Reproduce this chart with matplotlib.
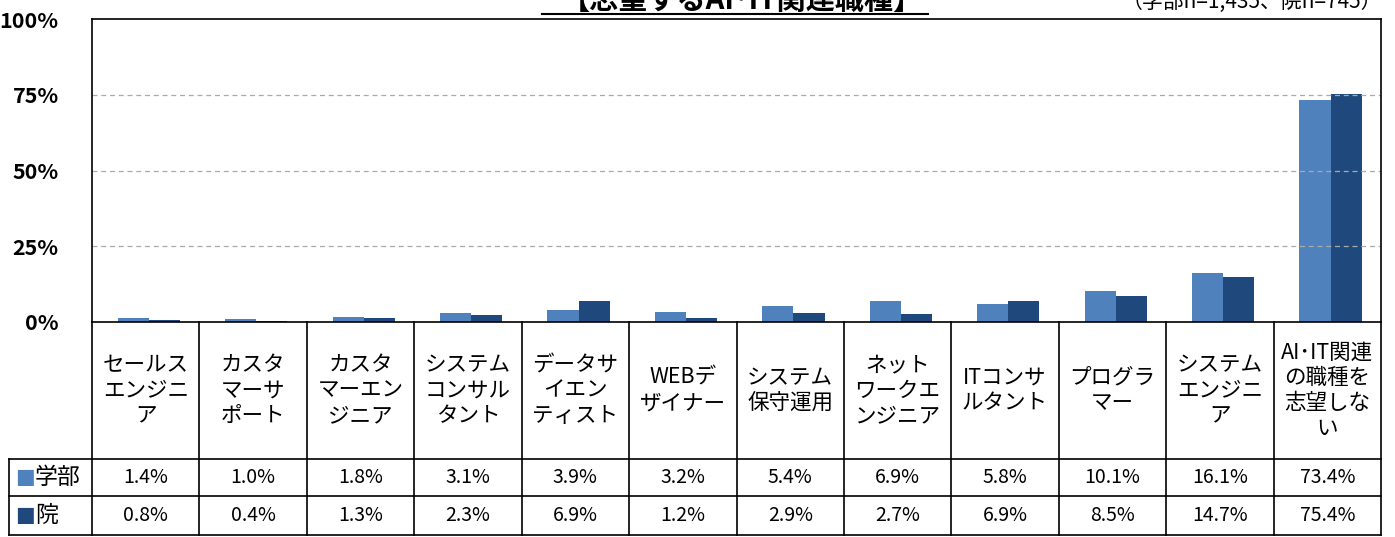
import matplotlib
matplotlib.use("Agg")
import matplotlib.pyplot as plt
from matplotlib.transforms import blended_transform_factory
from matplotlib.lines import Line2D

plt.rcParams['font.family'] = ['Noto Sans CJK JP', 'DejaVu Sans']

categories = ['セールス\nエンジニ\nア', 'カスタ\nマーサ\nポート', 'カスタ\nマーエン\nジニア',
              'システム\nコンサル\nタント', 'データサ\nイエン\nティスト', 'WEBデ\nザイナー',
              'システム\n保守運用', 'ネット\nワークエ\nンジニア', 'ITコンサ\nルタント',
              'プログラ\nマー', 'システム\nエンジニ\nア', 'AI･IT関連\nの職種を\n志望しな\nい']
gakubu = [1.4, 1.0, 1.8, 3.1, 3.9, 3.2, 5.4, 6.9, 5.8, 10.1, 16.1, 73.4]
in_ = [0.8, 0.4, 1.3, 2.3, 6.9, 1.2, 2.9, 2.7, 6.9, 8.5, 14.7, 75.4]
series_names = ['学部', '院']
colors = ['#4F81BD', '#1F497D']

W, H = 1395, 537
fig = plt.figure(figsize=(W / 100, H / 100), dpi=100)
ax = fig.add_axes([92 / W, 1 - 322 / H, (1381 - 92) / W, (322 - 19) / H])

n = len(categories)
x = list(range(n))
bw = 0.29
ax.bar([i - bw / 2 + 0.03 for i in x], gakubu, width=bw, color=colors[0])
ax.bar([i + bw / 2 + 0.03 for i in x], in_, width=bw, color=colors[1])

ax.set_xlim(-0.5, n - 0.5)
ax.set_ylim(0, 100)
ax.set_yticks([0, 25, 50, 75, 100])
ax.set_yticklabels(['0%', '25%', '50%', '75%', '100%'], fontsize=15.5, fontweight='bold')
ax.tick_params(axis='y', length=0, pad=24)
ax.set_xticks([])
for y in [25, 50, 75]:
    ax.axhline(y, color='#AAAAAA', lw=0.9, ls=(0, (4, 3)))
for s in ax.spines.values():
    s.set_color('black')
    s.set_linewidth(1.2)

# table below the plot
tr = blended_transform_factory(ax.transData, ax.transAxes)
r1, r2, r3 = -0.452, -0.574, -0.703
xl = -1.273
lk = dict(color='black', lw=1.2, transform=tr, clip_on=False)
for b in [i - 0.5 for i in range(n + 1)]:
    ax.add_line(Line2D([b, b], [0, r3], **lk))
ax.add_line(Line2D([xl, xl], [r1, r3], **lk))
for r in [r1, r2, r3]:
    ax.add_line(Line2D([xl, n - 0.5], [r, r], **lk))

for i, lab in enumerate(categories):
    ax.text(i, r1 / 2, lab, transform=tr, ha='center', va='center', fontsize=15.5,
            linespacing=1.2)
    ax.text(i, (r1 + r2) / 2, f'{gakubu[i]:.1f}%', transform=tr, ha='center',
            va='center', fontsize=14)
    ax.text(i, (r2 + r3) / 2, f'{in_[i]:.1f}%', transform=tr, ha='center',
            va='center', fontsize=14)

for k, (name, yy) in enumerate(zip(series_names, [(r1 + r2) / 2, (r2 + r3) / 2])):
    ax.text(xl + 0.06, yy, '■', transform=tr, ha='left', va='center', fontsize=15,
            color=colors[k], family=['DejaVu Sans'])
    ax.text(xl + 0.24, yy, name, transform=tr, ha='left', va='center', fontsize=16.5)

# title (partly cut off at the top, as in the reference)
fig.text(742 / W, 1 - 10 / H, '【志望するAI･IT関連職種】', ha='center', va='baseline',
         fontsize=21, fontweight='bold')
fig.add_artist(Line2D([542 / W, 928 / W], [1 - 14 / H, 1 - 14 / H], color='black',
                      lw=1.5, transform=fig.transFigure))
fig.text(1122 / W, 1 - 8 / H, '（学部n=1,435、院n=745）', ha='left', va='baseline',
         fontsize=15)

fig.savefig('out.png', dpi=100)
